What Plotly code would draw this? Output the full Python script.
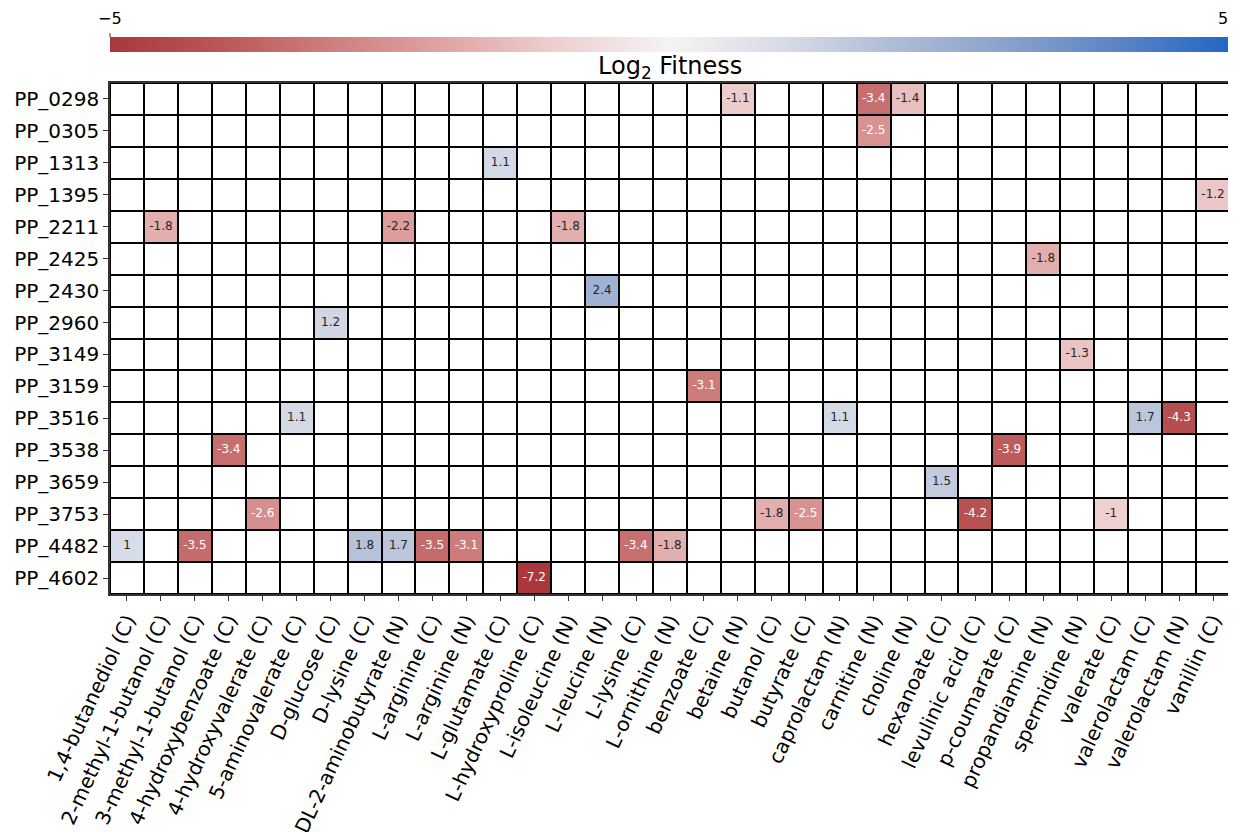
import plotly.graph_objects as go
import numpy as np

genes = ["PP_0298", "PP_0305", "PP_1313", "PP_1395", "PP_2211", "PP_2425", "PP_2430",
         "PP_2960", "PP_3149", "PP_3159", "PP_3516", "PP_3538", "PP_3659", "PP_3753",
         "PP_4482", "PP_4602"]

conditions = ["1,4-butanediol (C)", "2-methyl-1-butanol (C)", "3-methyl-1-butanol (C)",
              "4-hydroxybenzoate (C)", "4-hydroxyvalerate (C)", "5-aminovalerate (C)",
              "D-glucose (C)", "D-lysine (C)", "DL-2-aminobutyrate (N)", "L-arginine (C)",
              "L-arginine (N)", "L-glutamate (C)", "L-hydroxyproline (C)", "L-isoleucine (N)",
              "L-leucine (N)", "L-lysine (C)", "L-ornithine (N)", "benzoate (C)", "betaine (N)",
              "butanol (C)", "butyrate (C)", "caprolactam (N)", "carnitine (N)", "choline (N)",
              "hexanoate (C)", "levulinic acid (C)", "p-coumarate (C)", "propandiamine (N)",
              "spermidine (N)", "valerate (C)", "valerolactam (C)", "valerolactam (N)",
              "vanillin (C)"]

# significant fitness values: (gene, condition, log2 fitness)
hit_gene = ["PP_0298", "PP_0298", "PP_0298",
            "PP_0305",
            "PP_1313",
            "PP_1395",
            "PP_2211", "PP_2211", "PP_2211",
            "PP_2425",
            "PP_2430",
            "PP_2960",
            "PP_3149",
            "PP_3159",
            "PP_3516", "PP_3516", "PP_3516", "PP_3516",
            "PP_3538", "PP_3538",
            "PP_3659",
            "PP_3753", "PP_3753", "PP_3753", "PP_3753", "PP_3753",
            "PP_4482", "PP_4482", "PP_4482", "PP_4482", "PP_4482", "PP_4482", "PP_4482", "PP_4482",
            "PP_4602"]
hit_cond = ["betaine (N)", "carnitine (N)", "choline (N)",
            "carnitine (N)",
            "L-glutamate (C)",
            "vanillin (C)",
            "2-methyl-1-butanol (C)", "DL-2-aminobutyrate (N)", "L-isoleucine (N)",
            "propandiamine (N)",
            "L-leucine (N)",
            "D-glucose (C)",
            "spermidine (N)",
            "benzoate (C)",
            "5-aminovalerate (C)", "caprolactam (N)", "valerolactam (C)", "valerolactam (N)",
            "4-hydroxybenzoate (C)", "p-coumarate (C)",
            "hexanoate (C)",
            "4-hydroxyvalerate (C)", "butanol (C)", "butyrate (C)", "levulinic acid (C)", "valerate (C)",
            "1,4-butanediol (C)", "3-methyl-1-butanol (C)", "D-lysine (C)", "DL-2-aminobutyrate (N)",
            "L-arginine (C)", "L-arginine (N)", "L-lysine (C)", "L-ornithine (N)",
            "L-hydroxyproline (C)"]
hit_value = [-1.1, -3.4, -1.4,
             -2.5,
             1.1,
             -1.2,
             -1.8, -2.2, -1.8,
             -1.8,
             2.4,
             1.2,
             -1.3,
             -3.1,
             1.1, 1.1, 1.7, -4.3,
             -3.4, -3.9,
             1.5,
             -2.6, -1.8, -2.5, -4.2, -1.0,
             1.0, -3.5, 1.8, 1.7, -3.5, -3.1, -3.4, -1.8,
             -7.2]

color_min, color_max = -5, 5
colorbar_title = "Log<sub>2</sub> Fitness"

# build matrix
z = np.full((len(genes), len(conditions)), np.nan)
for g, c, v in zip(hit_gene, hit_cond, hit_value):
    z[genes.index(g), conditions.index(c)] = v

vlag_r = [
    [0.0, "#a9373b"], [0.1, "#bc5757"], [0.2, "#cf7f7f"], [0.3, "#e0a5a5"],
    [0.4, "#eed0d0"], [0.5, "#f5f3f3"], [0.6, "#d8dce8"], [0.7, "#aebcd6"],
    [0.8, "#8aa2cc"], [0.9, "#5c84c6"], [1.0, "#2266c6"],
]

fig = go.Figure()

# white background cells (empty entries)
fig.add_trace(go.Heatmap(
    z=np.zeros_like(z), x=conditions, y=genes,
    colorscale=[[0, "white"], [1, "white"]], showscale=False,
    xgap=2, ygap=2, hoverinfo="skip",
))

fig.add_trace(go.Heatmap(
    z=z, x=conditions, y=genes, zmin=color_min, zmax=color_max, colorscale=vlag_r,
    xgap=2, ygap=2,
    colorbar=dict(
        orientation="h", x=0.5, xanchor="center", y=1.090, yanchor="top",
        len=1.0, lenmode="fraction", thickness=15, xpad=0, ypad=0,
        outlinewidth=0, ticks="", tickvals=[color_min, color_max],
        tickfont=dict(size=4, color="rgba(0,0,0,0)"),
    ),
))

# cell labels
dark_x, dark_y, dark_t, light_x, light_y, light_t = [], [], [], [], [], []
for g, c, v in zip(hit_gene, hit_cond, hit_value):
    label = f"{v:g}"
    if v <= -2.5:
        light_x.append(c); light_y.append(g); light_t.append(label)
    else:
        dark_x.append(c); dark_y.append(g); dark_t.append(label)

fig.add_trace(go.Scatter(x=dark_x, y=dark_y, text=dark_t, mode="text",
                         textfont=dict(size=12, color="#262626", family="DejaVu Sans"),
                         showlegend=False, hoverinfo="skip"))
fig.add_trace(go.Scatter(x=light_x, y=light_y, text=light_t, mode="text",
                         textfont=dict(size=12, color="white", family="DejaVu Sans"),
                         showlegend=False, hoverinfo="skip"))

# colorbar end labels and ticks (above the bar), title below
for xp, val, anchor, shift in [(0, color_min, "center", 0), (1, color_max, "right", 0)]:
    fig.add_annotation(x=xp, y=1.1037, xref="paper", yref="paper",
                       text=f"{val:g}".replace("-", "\u2212"), showarrow=False,
                       xanchor=anchor, xshift=shift, yanchor="bottom",
                       font=dict(size=16, color="black", family="DejaVu Sans"))
    fig.add_shape(type="line", xref="paper", yref="paper", x0=xp, x1=xp,
                  y0=1.0900, y1=1.0978, line=dict(color="#333", width=1))
fig.add_annotation(x=0.5, y=1.0313, xref="paper", yref="paper", text=colorbar_title,
                   showarrow=False, xanchor="center", yanchor="middle",
                   font=dict(size=24, color="black", family="DejaVu Sans"))

fig.update_layout(
    width=1228, height=824,
    margin=dict(l=102, r=6, t=75, b=238, autoexpand=False),
    plot_bgcolor="black", paper_bgcolor="white",
    font=dict(family="DejaVu Sans", color="black"),
    showlegend=False,
)
fig.update_xaxes(
    type="category", categoryorder="array", categoryarray=conditions,
    tickangle=-65, tickfont=dict(size=20), ticks="outside", ticklen=5,
    tickcolor="#333", showgrid=False, zeroline=False,
    showline=True, linecolor="#333", linewidth=1.5, mirror=True,
    range=[-0.5, len(conditions) - 0.5],
)
fig.update_yaxes(
    type="category", categoryorder="array", categoryarray=genes,
    autorange=False, range=[len(genes) - 0.5, -0.5],
    tickfont=dict(size=20), ticks="outside", ticklen=5, tickcolor="#333",
    showgrid=False, zeroline=False,
    showline=True, linecolor="#333", linewidth=1.5, mirror=True,
)

fig.write_html("out.html")
